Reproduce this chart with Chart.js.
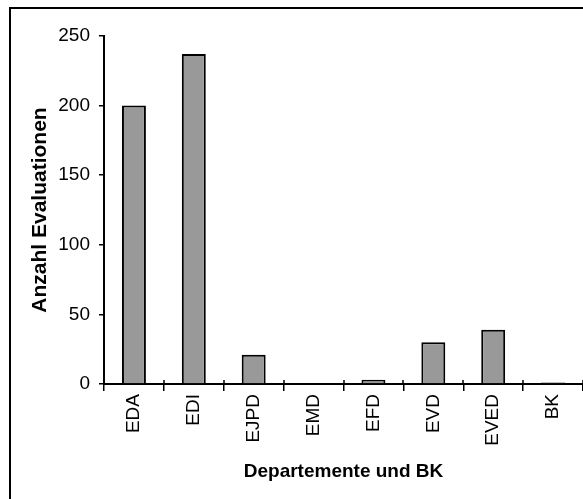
<!DOCTYPE html>
<html lang="de">

<head>
  <meta charset="UTF-8">
  <meta name="viewport" content="width=device-width, initial-scale=1.0">
  <title>Anzahl Evaluationen</title>
  <script src="https://cdn.jsdelivr.net/npm/chart.js@4.4.0/dist/chart.umd.min.js"></script>
</head>

<body>
  <style>
    body { margin: 0; background: #fff; }
    #wrap { width: 583px; height: 499px; position: relative; }
  </style>

  <div id="wrap"><canvas id="myChart"></canvas></div>
  <script>
    const departemente = ['EDA', 'EDI', 'EJPD', 'EMD', 'EFD', 'EVD', 'EVED', 'BK'];
    const evaluationen = [200, 237, 21, 0, 3, 30, 39, 1];
    const yTicks = [0, 50, 100, 150, 200, 250];

    const font = 'Arial, "Liberation Sans", sans-serif';

    // frame at top/left, and the small tick stubs above the x axis
    const frame = {
      id: 'frame',
      beforeDraw(chart) {
        const ctx = chart.ctx;
        ctx.save();
        ctx.strokeStyle = '#000';
        ctx.lineWidth = 2;
        ctx.beginPath();
        ctx.moveTo(10, chart.height);
        ctx.lineTo(10, 8);
        ctx.lineTo(chart.width, 8);
        ctx.stroke();
        ctx.restore();
      },
      afterDraw(chart) {
        const x = chart.scales.x;
        const ctx = chart.ctx;
        const half = (x.getPixelForValue(1) - x.getPixelForValue(0)) / 2;
        ctx.save();
        ctx.strokeStyle = '#000';
        ctx.lineWidth = 1.5;
        ctx.beginPath();
        for (let i = 0; i <= departemente.length; i++) {
          const px = Math.round(x.getPixelForValue(i) - half);
          ctx.moveTo(px, x.top - 4);
          ctx.lineTo(px, x.top);
        }
        ctx.stroke();
        ctx.restore();
      }
    };

    const data = {
      labels: departemente,
      datasets: [{
        data: evaluationen,
        backgroundColor: '#999999',
        borderColor: '#000',
        borderWidth: 2,
        barPercentage: 0.4,
        categoryPercentage: 1,
      }]
    };

    const config = {
      type: 'bar',
      data,
      plugins: [frame],
      options: {
        responsive: true,
        maintainAspectRatio: false,
        animation: false,
        layout: { padding: { left: 12, top: 36, right: 0, bottom: 0 } },
        plugins: {
          legend: { display: false },
          tooltip: { enabled: false },
        },
        scales: {
          x: {
            grid: { drawOnChartArea: false, color: '#000', lineWidth: 1.5, tickLength: 7, offset: true },
            border: { color: '#000', width: 2 },
            ticks: {
              color: '#000', font: { family: font, size: 19 },
              minRotation: 90, maxRotation: 90, padding: 3, autoSkip: false,
            },
            title: {
              display: true, text: 'Departemente und BK', color: '#000',
              font: { family: font, size: 19, weight: 'bold' },
              padding: { top: 0, bottom: 16 },
            },
            afterFit(scale) {
              scale.height = 499 - 384;
              scale.paddingLeft = 0;
              scale.paddingRight = 0;
            },
          },
          y: {
            min: 0,
            max: 250,
            afterBuildTicks(scale) {
              scale.ticks = yTicks.map(v => ({ value: v }));
            },
            grid: { drawOnChartArea: false, color: '#000', lineWidth: 1.5, tickLength: 5 },
            border: { color: '#000', width: 2 },
            ticks: { color: '#000', font: { family: font, size: 19 }, padding: 9 },
            title: {
              display: true, text: 'Anzahl Evaluationen', color: '#000',
              font: { family: font, size: 21, weight: 'bold' },
              padding: { top: 16, bottom: 0 },
            },
            afterFit(scale) {
              scale.width = 104 - 12;
            },
          },
        },
      },
    };

    new Chart(document.getElementById('myChart'), config);
  </script>

</body>

</html>
